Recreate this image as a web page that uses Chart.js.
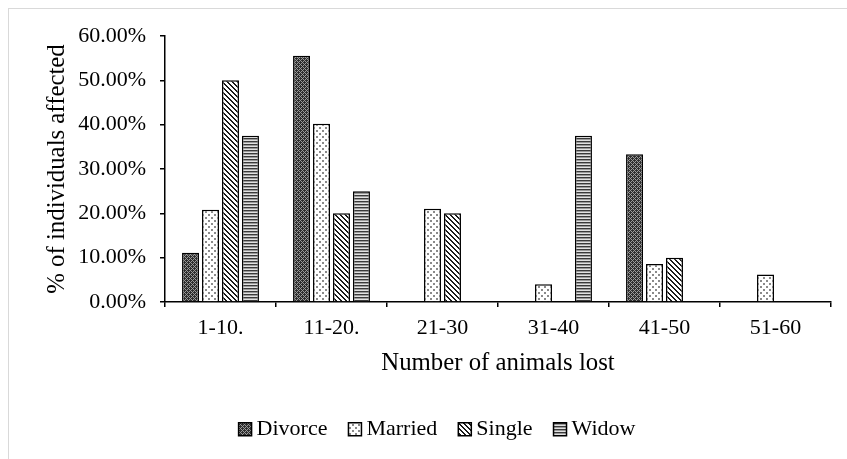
<!DOCTYPE html>
<html>
<head>
<meta charset="utf-8">
<script src="https://cdn.jsdelivr.net/npm/chart.js@4.4.1/dist/chart.umd.min.js"></script>
<style>
  html, body { margin: 0; padding: 0; background: #fff; }
  #wrap { position: relative; width: 847px; height: 459px; }
  #frame { position: absolute; left: 8px; top: 8px; right: -2px; bottom: -2px; border-left: 1px solid #d9d9d9; border-top: 1px solid #d9d9d9; }
  canvas { position: absolute; left: 0; top: 0; }
</style>
</head>
<body>
<div id="wrap">
  <div id="frame"></div>
  <canvas id="c" width="847" height="459"></canvas>
</div>
<script>
const categories = ['1-10.', '11-20.', '21-30', '31-40', '41-50', '51-60'];
const seriesNames = ['Divorce', 'Married', 'Single', 'Widow'];
const divorce = [11.11, 55.56, 0, 0, 33.33, 0];
const married = [20.83, 40.2, 21.05, 4.0, 8.57, 6.2];
const single  = [50.0, 20.0, 20.0, 0, 10.0, 0];
const widow   = [37.5, 25.0, 0, 37.5, 0, 0];
const yTicks = [0, 10, 20, 30, 40, 50, 60];

function makePattern(w, h, painter) {
  const c = document.createElement('canvas');
  c.width = w; c.height = h;
  const g = c.getContext('2d');
  painter(g, w, h);
  return document.getElementById('c').getContext('2d').createPattern(c, 'repeat');
}
const patDivorce = makePattern(4, 4, (g, w, h) => {
  g.fillStyle = '#2e2e2e'; g.fillRect(0, 0, w, h);
  g.fillStyle = '#9a9a9a';
  for (let x = 0; x < w; x++) for (let y = 0; y < h; y++) {
    if ((x + y) % 4 === 0 || ((x - y) % 4 + 4) % 4 === 0) g.fillRect(x, y, 1, 1);
  }
});
const patMarried = makePattern(6, 6, (g, w, h) => {
  g.fillStyle = '#fff'; g.fillRect(0, 0, w, h);
  g.fillStyle = '#8a8a8a';
  g.fillRect(1, 1, 2, 2);
  g.fillRect(4, 4, 2, 2);
});
const patSingle = makePattern(5, 5, (g, w, h) => {
  g.fillStyle = '#fff'; g.fillRect(0, 0, w, h);
  g.fillStyle = '#1a1a1a';
  for (let x = 0; x < w; x++) for (let y = 0; y < h; y++) {
    const d = ((x - y) % 5 + 5) % 5;
    if (d < 2) g.fillRect(x, y, 1, 1);
  }
});
const patWidow = makePattern(3, 3, (g, w, h) => {
  g.fillStyle = '#3a3a3a'; g.fillRect(0, 0, w, 1);
  g.fillStyle = '#9a9a9a'; g.fillRect(0, 1, w, 1);
  g.fillStyle = '#e2e2e2'; g.fillRect(0, 2, w, 1);
});

const FONT = "'Liberation Serif', 'Times New Roman', serif";

new Chart(document.getElementById('c'), {
  type: 'bar',
  data: {
    labels: categories,
    datasets: [
      { label: seriesNames[0], data: divorce, backgroundColor: patDivorce },
      { label: seriesNames[1], data: married, backgroundColor: patMarried },
      { label: seriesNames[2], data: single,  backgroundColor: patSingle },
      { label: seriesNames[3], data: widow,   backgroundColor: patWidow }
    ].map(d => Object.assign(d, { borderColor: '#000', borderWidth: 1.5, borderSkipped: 'start', categoryPercentage: 0.72, barPercentage: 0.85 }))
  },
  options: {
    responsive: false,
    animation: false,
    layout: { padding: { left: 49, right: 16, top: 36, bottom: 8.7 } },
    plugins: {
      tooltip: { enabled: false },
      legend: {
        position: 'bottom',
        labels: {
          color: '#000',
          font: { family: FONT, size: 22 },
          usePointStyle: true,
          pointStyle: 'rect',
          boxWidth: 1,
          boxHeight: 13,
          padding: 27
        }
      }
    },
    scales: {
      x: {
        afterFit: s => { s.height = 89.3; },
        grid: { display: true, drawOnChartArea: false, drawTicks: true, tickLength: 5, color: '#000', lineWidth: 1.5, offset: true },
        border: { display: true, color: '#000', width: 1.5 },
        ticks: { color: '#000', font: { family: FONT, size: 22 }, padding: 8, maxRotation: 0 },
        title: { display: true, text: 'Number of animals lost', color: '#000', font: { family: FONT, size: 24.8 }, padding: { top: 0, bottom: 12.7 } }
      },
      y: {
        min: 0, max: 60,
        afterFit: s => { s.width = 116; },
        afterBuildTicks: s => { s.ticks = yTicks.map(v => ({ value: v })); },
        grid: { display: true, drawOnChartArea: false, drawTicks: true, tickLength: 5, color: '#000', lineWidth: 1.5 },
        border: { display: true, color: '#000', width: 1.5 },
        ticks: { color: '#000', font: { family: FONT, size: 22 }, padding: 14, callback: v => Number(v).toFixed(2) + '%' },
        title: { display: true, text: '% of individuals affected', color: '#000', font: { family: FONT, size: 24.8 }, padding: { top: -6, bottom: 0 } }
      }
    }
  }
});
</script>
</body>
</html>
